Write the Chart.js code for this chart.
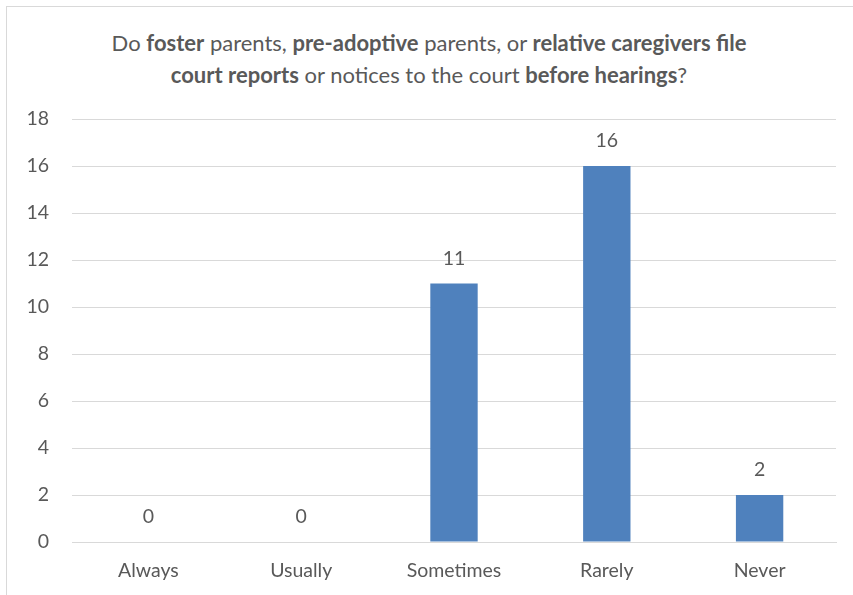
<!DOCTYPE html>
<html>
<head>
<meta charset="utf-8">
<script src="https://cdn.jsdelivr.net/npm/chart.js@4"></script>
<style>
  html, body { margin: 0; padding: 0; background: #fff; overflow: hidden; }
  #wrap { position: relative; width: 853px; height: 595px; }
  #frame { position: absolute; left: 6px; top: 6px; width: 900px; height: 700px; border: 1px solid #d9d9d9; }
  #title {
    position: absolute; left: 0; top: 27px; width: 858px; text-align: center;
    font-family: Lato, "Open Sans", sans-serif; font-size: 22px; line-height: 32px; color: #595959;
  }
  #title b { font-weight: 700; }
  canvas { position: absolute; left: 0; top: 0; }
</style>
</head>
<body>
<div id="wrap">
  <div id="frame"></div>
  <div id="title">Do <b>foster</b> parents, <b>pre-adoptive</b> parents, or <b>relative caregivers file</b><br><b>court reports</b> or notices to the court <b>before hearings</b>?</div>
  <canvas id="c" width="853" height="595"></canvas>
</div>
<script>
  const categories = ['Always', 'Usually', 'Sometimes', 'Rarely', 'Never'];
  const counts = [0, 0, 11, 16, 2];
  const yTicks = [0, 2, 4, 6, 8, 10, 12, 14, 16, 18];

  const textColor = '#595959';
  const font = { family: 'Lato, "Open Sans", sans-serif', size: 19.5 };

  // value labels above each bar
  const barLabels = {
    id: 'barLabels',
    afterDatasetsDraw(chart) {
      const ctx = chart.ctx;
      const meta = chart.getDatasetMeta(0);
      ctx.save();
      ctx.fillStyle = textColor;
      ctx.font = font.size + 'px ' + font.family;
      ctx.textAlign = 'center';
      ctx.textBaseline = 'middle';
      meta.data.forEach((bar, i) => {
        ctx.fillText(String(counts[i]), bar.x, bar.y - 25);
      });
      ctx.restore();
    }
  };

  new Chart(document.getElementById('c'), {
    type: 'bar',
    data: {
      labels: categories,
      datasets: [{
        data: counts,
        backgroundColor: '#4f81bd',
        borderWidth: 0,
        barPercentage: 0.62,
        categoryPercentage: 0.5
      }]
    },
    options: {
      responsive: false,
      animation: false,
      events: [],
      layout: { padding: { top: 119, right: 17, left: 0, bottom: 0 } },
      plugins: { legend: { display: false }, title: { display: false }, tooltip: { enabled: false } },
      scales: {
        x: {
          grid: { display: false, drawTicks: false },
          border: { display: true, color: '#d9d9d9', width: 1 },
          ticks: { color: textColor, font: font, padding: 17, maxRotation: 0 },
          afterFit(scale) { scale.height = 53; }
        },
        y: {
          min: 0,
          max: 18,
          afterBuildTicks(scale) { scale.ticks = yTicks.map(v => ({ value: v })); },
          grid: { color: '#d9d9d9', drawTicks: false },
          border: { display: false },
          ticks: { color: textColor, font: font, padding: 23 },
          afterFit(scale) { scale.width = 72; }
        }
      }
    },
    plugins: [barLabels]
  });
</script>
</body>
</html>
